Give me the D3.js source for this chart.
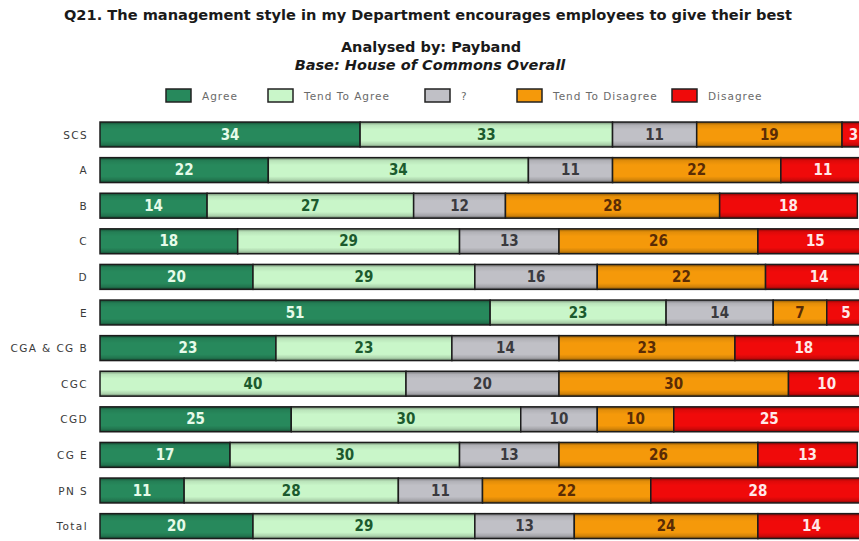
<!DOCTYPE html>
<html>
<head>
<meta charset="utf-8">
<script src="https://cdn.jsdelivr.net/npm/d3@7"></script>
<style>
  html, body { margin: 0; padding: 0; background: #fff; }
  svg { display: block; }
</style>
</head>
<body>
<svg id="chart" width="859" height="541"></svg>
<script>
// Survey responses by payband (percent of respondents)
const categories = ["SCS", "A", "B", "C", "D", "E", "CGA & CG B", "CGC", "CGD", "CG E", "PN S", "Total"];
const seriesNames = ["Agree", "Tend To Agree", "?", "Tend To Disagree", "Disagree"];
const agree          = [34, 22, 14, 18, 20, 51, 23,  0, 25, 17, 11, 20];
const tendToAgree    = [33, 34, 27, 29, 29, 23, 23, 40, 30, 30, 28, 29];
const unsure         = [11, 11, 12, 13, 16, 14, 14, 20, 10, 13, 11, 13];
const tendToDisagree = [19, 22, 28, 26, 22,  7, 23, 30, 10, 26, 22, 24];
const disagree       = [ 3, 11, 18, 15, 14,  5, 18, 10, 25, 13, 28, 14];

const fills = ["#27895c", "#c9f6c9", "#c0c0c6", "#f5990a", "#f00a0a"];
const labelColors = ["#e6fbe9", "#1c5a2e", "#3a3a3e", "#5a2c05", "#ffe8e8"];

const rows = categories.map((c, i) => ({
  category: c,
  Agree: agree[i],
  "Tend To Agree": tendToAgree[i],
  "?": unsure[i],
  "Tend To Disagree": tendToDisagree[i],
  Disagree: disagree[i]
}));

const stacked = d3.stack().keys(seriesNames)(rows);

const svg = d3.select("#chart");

const x = d3.scaleLinear().domain([0, 100]).range([100, 865]);
const y = d3.scaleBand().domain(categories).range([116.7, 543.9])
  .paddingInner(0.3).paddingOuter(0.15);

// Shading used on every bar segment: darker rims top and bottom
const defs = svg.append("defs");
const shade = defs.append("linearGradient").attr("id", "shade")
  .attr("x1", 0).attr("y1", 0).attr("x2", 0).attr("y2", 1);
[[0, 0.45], [0.12, 0.08], [0.3, 0], [0.75, 0], [0.9, 0.15], [1, 0.5]].forEach(([o, a]) =>
  shade.append("stop").attr("offset", o).attr("stop-color", "#000").attr("stop-opacity", a));

// Titles
const titleFont = "'DejaVu Sans', Verdana, sans-serif";
svg.append("text").attr("x", 428).attr("y", 20).attr("text-anchor", "middle")
  .attr("font-family", titleFont).attr("font-weight", "bold").attr("font-size", 14.6)
  .attr("fill", "#1a1a1a")
  .text("Q21. The management style in my Department encourages employees to give their best");
svg.append("text").attr("x", 431).attr("y", 52).attr("text-anchor", "middle")
  .attr("font-family", titleFont).attr("font-weight", "bold").attr("font-size", 14.5)
  .attr("fill", "#1a1a1a").text("Analysed by: Payband");
svg.append("text").attr("x", 430).attr("y", 70).attr("text-anchor", "middle")
  .attr("font-family", titleFont).attr("font-weight", "bold").attr("font-style", "italic")
  .attr("font-size", 14.5).attr("fill", "#1a1a1a").text("Base: House of Commons Overall");

// Legend
const legendX = [166, 268, 425, 517, 672];
const legend = svg.append("g").selectAll("g").data(seriesNames).join("g")
  .attr("transform", (d, i) => `translate(${legendX[i]},89)`);
legend.append("rect").attr("width", 25).attr("height", 13)
  .attr("fill", (d, i) => fills[i]).attr("stroke", "#222").attr("stroke-width", 1.5);
legend.append("text").attr("x", 36).attr("y", 10.5)
  .attr("font-family", "'DejaVu Sans', Verdana, sans-serif").attr("font-size", 10.5)
  .attr("letter-spacing", 1).attr("fill", "#6a6a6a").text(d => d);

// Category labels
svg.append("g").selectAll("text").data(categories).join("text")
  .attr("x", 88).attr("y", d => y(d) + y.bandwidth() / 2 + 4)
  .attr("text-anchor", "end")
  .attr("font-family", "'DejaVu Sans', Verdana, sans-serif").attr("font-size", 10.5)
  .attr("letter-spacing", 1.4).attr("fill", "#3a3a3a").text(d => d);

// Bars
const layer = svg.append("g").selectAll("g").data(stacked).join("g");
const seg = layer.selectAll("g").data((s, i) => s.map(d => ({ d, i, key: s.key })).filter(o => o.d[1] > o.d[0]))
  .join("g");
seg.append("rect")
  .attr("x", o => x(o.d[0])).attr("y", o => y(o.d.data.category))
  .attr("width", o => x(o.d[1]) - x(o.d[0])).attr("height", y.bandwidth())
  .attr("fill", o => fills[o.i]);
seg.append("rect")
  .attr("x", o => x(o.d[0])).attr("y", o => y(o.d.data.category))
  .attr("width", o => x(o.d[1]) - x(o.d[0])).attr("height", y.bandwidth())
  .attr("fill", "url(#shade)").attr("stroke", "#1c1c1c").attr("stroke-width", 1.5);

// Value labels
seg.append("text")
  .attr("x", o => (x(o.d[0]) + x(o.d[1])) / 2)
  .attr("y", o => y(o.d.data.category) + y.bandwidth() / 2 + 5)
  .attr("text-anchor", "middle")
  .attr("font-family", "'Liberation Sans Narrow', 'DejaVu Sans Condensed', sans-serif")
  .attr("font-weight", "bold").attr("font-size", 15)
  .attr("fill", o => labelColors[o.i])
  .text(o => o.d[1] - o.d[0]);
</script>
</body>
</html>
